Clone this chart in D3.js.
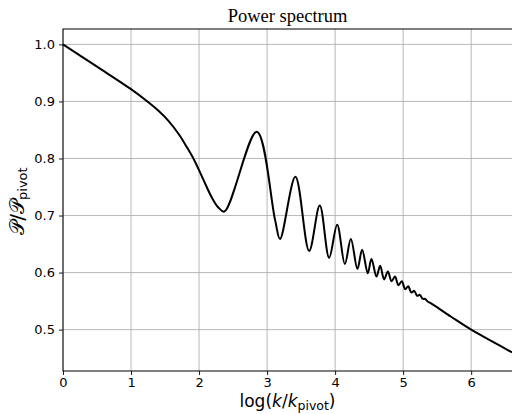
<!DOCTYPE html>
<html><head><meta charset="utf-8">
<script src="https://cdn.jsdelivr.net/npm/d3@7"></script>
<style>body{margin:0;background:#fff}svg{display:block}</style>
</head><body>
<svg id="chart" width="512" height="414"></svg>
<script>
const xVals = [0, 0.5, 1.0, 1.25, 1.4, 1.55, 1.7, 1.82, 1.93, 2.063, 2.186, 2.284, 2.372,
  2.848, 3.118, 3.19, 3.416, 3.618, 3.774, 3.912, 4.03, 4.143, 4.231, 4.328, 4.397, 4.48, 4.534,
  4.608, 4.662, 4.72, 4.775, 4.83, 4.88, 4.93, 4.98, 5.03, 5.075, 5.12, 5.163, 5.205, 5.245,
  5.285, 5.325, 5.365, 5.40, 5.7, 6.0, 6.3, 6.6];
const yVals = [1.0, 0.961, 0.9215, 0.899, 0.884, 0.866, 0.843, 0.820, 0.797, 0.763, 0.732, 0.714, 0.707,
  0.847, 0.692, 0.659, 0.768, 0.638, 0.7175, 0.626, 0.684, 0.615, 0.659, 0.6065, 0.640, 0.599, 0.624,
  0.593, 0.612, 0.588, 0.602, 0.585, 0.593, 0.578, 0.585, 0.571, 0.576, 0.565, 0.568, 0.5595, 0.561,
  0.5542, 0.5537, 0.5488, 0.5468, 0.523, 0.500, 0.480, 0.460];
const xTicks = [0, 1, 2, 3, 4, 5, 6];
const yTicks = [0.5, 0.6, 0.7, 0.8, 0.9, 1.0];
const titleText = "Power spectrum";

const L = 63, R = 512, T = 29, B = 371;
const svg = d3.select("#chart");
const x = d3.scaleLinear().domain([0, 6.6]).range([L, R]);
const y = d3.scaleLinear().domain([0.4275, 1.027]).range([B, T]);

// grid
const g = svg.append("g");
g.selectAll(".gx").data(xTicks).enter().append("line")
  .attr("x1", d => x(d)).attr("x2", d => x(d)).attr("y1", T).attr("y2", B)
  .attr("stroke", "#b0b0b0").attr("stroke-width", 0.9);
g.selectAll(".gy").data(yTicks).enter().append("line")
  .attr("x1", L).attr("x2", R).attr("y1", d => y(d)).attr("y2", d => y(d))
  .attr("stroke", "#b0b0b0").attr("stroke-width", 0.9);

// line
const data = xVals.map((v, i) => [v, yVals[i]]);
svg.append("path").datum(data)
  .attr("fill", "none").attr("stroke", "#000").attr("stroke-width", 2)
  .attr("stroke-linejoin", "round")
  .attr("d", d3.line().x(d => x(d[0])).y(d => y(d[1])).curve(d3.curveCatmullRom.alpha(0.5)));

// axes
const xAxis = svg.append("g").attr("transform", `translate(0,${B})`)
  .call(d3.axisBottom(x).tickValues(xTicks).tickFormat(d3.format("d")).tickSize(4).tickPadding(3));
const yAxis = svg.append("g").attr("transform", `translate(${L},0)`)
  .call(d3.axisLeft(y).tickValues(yTicks).tickFormat(d3.format(".1f")).tickSize(4).tickPadding(4));
[xAxis, yAxis].forEach(a => {
  a.select(".domain").remove();
  a.selectAll("text").attr("font-family", "DejaVu Sans").attr("font-size", 13).attr("fill", "#000");
  a.selectAll("line").attr("stroke", "#000").attr("stroke-width", 0.9);
});
// spines
svg.append("rect").attr("x", L).attr("y", T).attr("width", R - L + 2).attr("height", B - T)
  .attr("fill", "none").attr("stroke", "#000").attr("stroke-width", 1);

// title
svg.append("text").attr("x", (L + R) / 2).attr("y", 22).attr("text-anchor", "middle")
  .attr("font-family", "Liberation Serif").attr("font-size", 18.5).text(titleText);

// x label
const xl = svg.append("text").attr("x", (L + R) / 2).attr("y", 407).attr("text-anchor", "middle")
  .attr("font-family", "DejaVu Sans").attr("font-size", 17);
xl.append("tspan").text("log(");
xl.append("tspan").attr("font-style", "italic").text("k");
xl.append("tspan").text("/");
xl.append("tspan").attr("font-style", "italic").text("k");
xl.append("tspan").attr("font-size", 12.5).attr("dy", 3).text("pivot");
xl.append("tspan").attr("dy", -3).text(")");

// y label
const yl = svg.append("text").attr("transform", `translate(24,${(T + B) / 2 + 1}) rotate(-90)`)
  .attr("text-anchor", "middle").attr("font-family", "DejaVu Sans").attr("font-size", 20)
  .attr("fill", "#000");
yl.append("tspan").text("𝒫/𝒫");
yl.append("tspan").attr("font-size", 13).attr("dy", 3).text("pivot");
</script>
</body></html>
